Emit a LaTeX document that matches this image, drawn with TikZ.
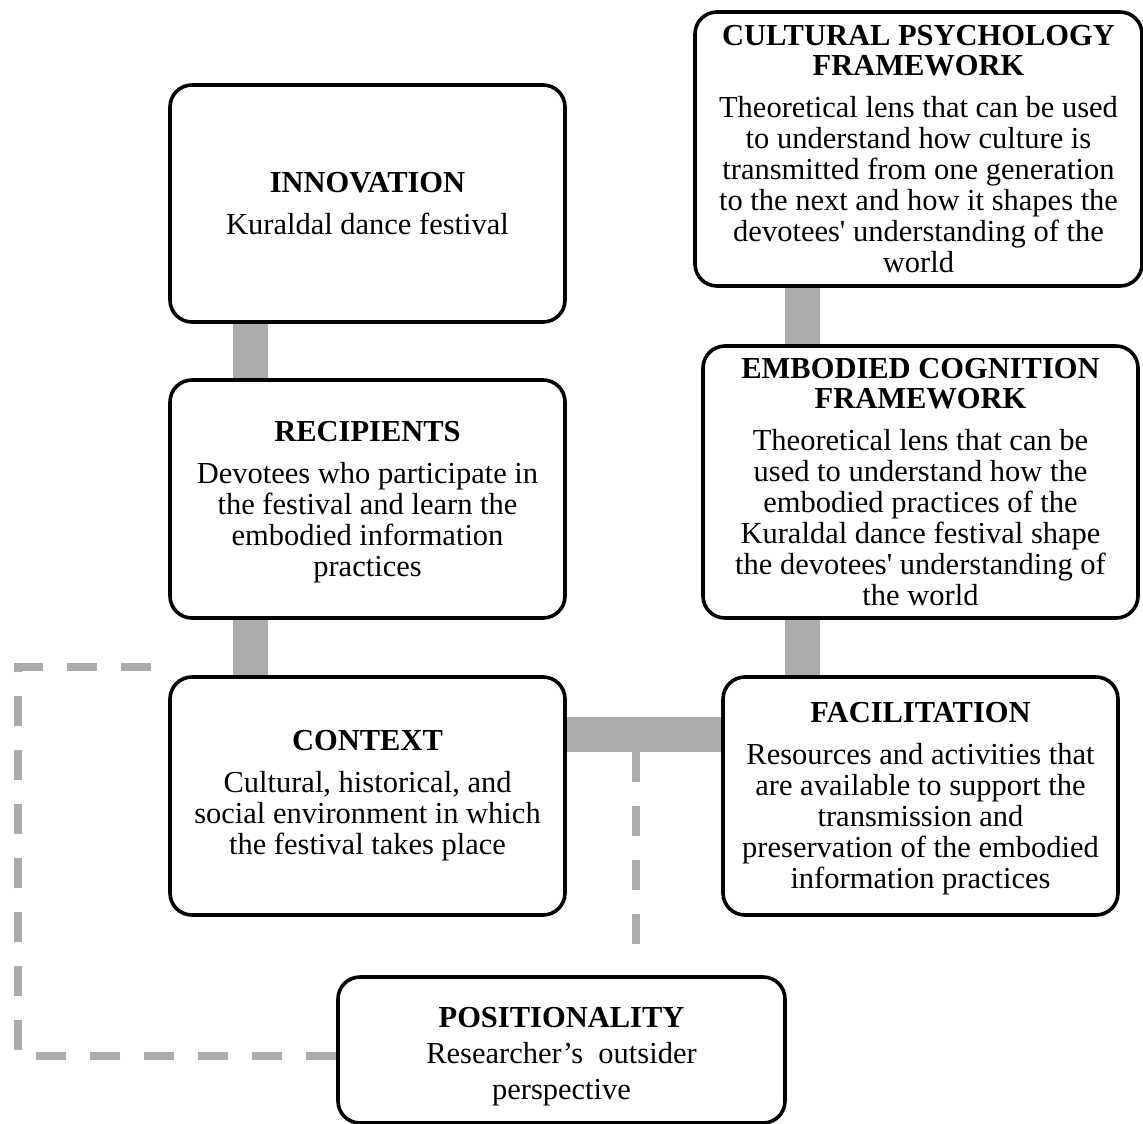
\documentclass[tikz,border=0pt]{standalone}
\usepackage{fontspec}
\setmainfont{Liberation Serif}
\usetikzlibrary{backgrounds,calc}
\definecolor{bargray}{HTML}{ABABAB}
\tikzset{
  box/.style={draw=black, fill=white, line width=3.6pt, rounded corners=22pt,
    align=center, inner sep=0pt, font=\fontsize{30.5}{31}\selectfont},
  bar/.style={draw=bargray, line width=35pt},
  dashline/.style={draw=bargray, line width=7.5pt, dash pattern=on 30pt off 24pt}
}
\begin{document}
\begin{tikzpicture}[x=1pt,y=-1pt]
\useasboundingbox (0,0) rectangle (1143,1124);
\node[box, minimum width=395pt, minimum height=237pt] (innov) at (367.5,203.5)
  {\textbf{INNOVATION}\\[11pt]Kuraldal dance festival};
\node[box, minimum width=395pt, minimum height=238pt] (recip) at (367.5,499)
  {\rule{0pt}{26.5pt}\textbf{RECIPIENTS}\\[11pt]Devotees who participate in\\the festival and learn the\\embodied information\\practices};
\node[box, minimum width=395pt, minimum height=238pt] (ctx) at (367.5,796)
  {\textbf{CONTEXT}\\[11pt]Cultural, historical, and\\social environment in which\\the festival takes place};
\node[box, minimum width=447pt, minimum height=274pt] (cult) at (918.5,149)
  {\textbf{CULTURAL PSYCHOLOGY}\\[-1pt]\textbf{FRAMEWORK}\\[11pt]Theoretical lens that can be used\\to understand how culture is\\transmitted from one generation\\to the next and how it shapes the\\devotees\textquotesingle{} understanding of the\\world};
\node[box, minimum width=435pt, minimum height=272pt] (emb) at (920.5,482)
  {\textbf{EMBODIED COGNITION}\\[-1pt]\textbf{FRAMEWORK}\\[11pt]Theoretical lens that can be\\used to understand how the\\embodied practices of the\\Kuraldal dance festival shape\\the devotees\textquotesingle{} understanding of\\the world};
\node[box, minimum width=395pt, minimum height=238pt] (fac) at (920.5,796)
  {\rule{0pt}{24.5pt}\textbf{FACILITATION}\\[11pt]Resources and activities that\\are available to support the\\transmission and\\preservation of the embodied\\information practices};
\node[box, minimum width=447pt, minimum height=146pt] (posit) at (561.5,1050)
  {\rule{0pt}{32.5pt}\textbf{POSITIONALITY}\\[5pt]Researcher’s\ \ outsider\\[5pt]perspective};
\coordinate (lx) at (250,0);
\coordinate (rx) at (802,0);
\coordinate (hy) at (0,734.5);
\coordinate (dtop) at (152,667);
\coordinate (dcorner1) at (18,667);
\coordinate (dcorner2) at (18,1056);
\coordinate (vtop) at (636,752);
\coordinate (vbot) at (636,946);
\begin{scope}[on background layer]
  \draw[bar] (innov.south -| lx) -- (recip.north -| lx);
  \draw[bar] (recip.south -| lx) -- (ctx.north -| lx);
  \draw[bar] (cult.south -| rx) -- (emb.north -| rx);
  \draw[bar] (emb.south -| rx) -- (fac.north -| rx);
  \draw[bar] (ctx.east |- hy) -- (fac.west |- hy);
  \draw[dashline] (posit.west |- dcorner2) -- (dcorner2) -- (dcorner1) -- (dtop);
  \draw[dashline] (vtop) -- (vbot);
\end{scope}
\end{tikzpicture}
\end{document}
